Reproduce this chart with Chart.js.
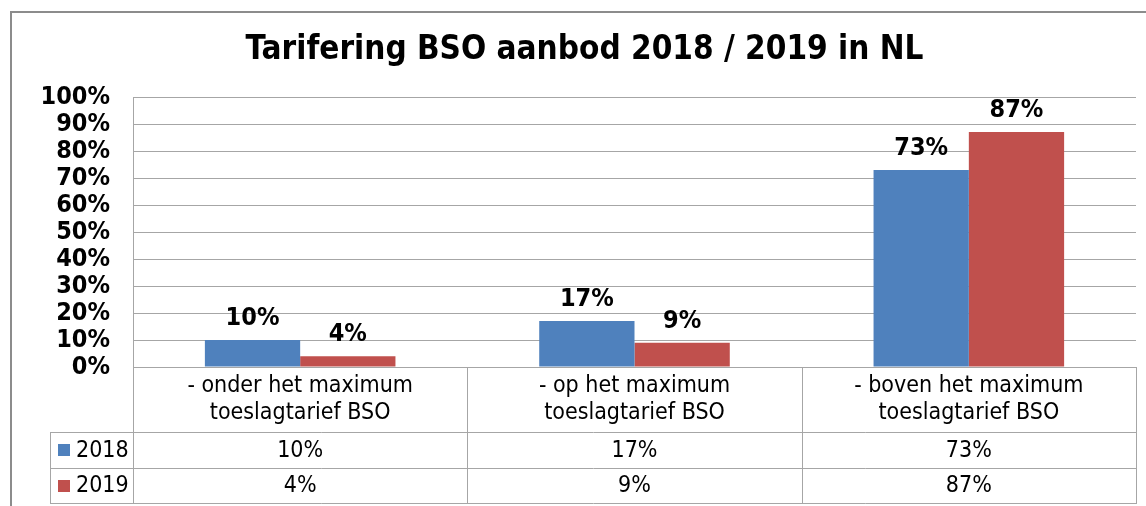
<!DOCTYPE html>
<html lang="nl">
<head>
    <meta charset="UTF-8">
    <title>Tarifering BSO aanbod 2018 / 2019 in NL</title>
    <script src="https://cdn.jsdelivr.net/npm/chart.js"></script>
    <style>
        html, body { margin: 0; padding: 0; background: #ffffff; }
        #chartContainer { position: relative; width: 1146px; height: 506px; }
    </style>
</head>
<body>
    <div id="chartContainer">
        <canvas id="chart1"></canvas>
    </div>

    <script>
        // data
        var categorieen = [
            ['- onder het maximum', 'toeslagtarief BSO'],
            ['- op het maximum', 'toeslagtarief BSO'],
            ['- boven het maximum', 'toeslagtarief BSO']
        ];
        var jaren = ['2018', '2019'];
        var waarden2018 = [10, 17, 73];
        var waarden2019 = [4, 9, 87];
        var kleuren = ['#4F81BD', '#C0504D'];

        var lettertype = '"DejaVu Sans Condensed", "DejaVu Sans", sans-serif';
        var lijnKleur = '#a6a6a6';

        // data table under the plot + outer frame
        var tabelPlugin = {
            id: 'tabel',
            afterDraw: function (chart) {
                var ctx = chart.ctx;
                var area = chart.chartArea;
                var x = chart.scales.x;
                var rijen = [area.bottom, 432, 468, 503];
                var legendaLinks = 50;
                var n = categorieen.length;
                var grenzen = [];
                for (var i = 0; i <= n; i++) {
                    grenzen.push(i === 0 ? area.left : (i === n ? area.right : (x.getPixelForValue(i - 1) + x.getPixelForValue(i)) / 2));
                }

                ctx.save();
                ctx.strokeStyle = lijnKleur;
                ctx.lineWidth = 1;
                ctx.beginPath();
                // verticale lijnen
                for (var i = 0; i < grenzen.length; i++) {
                    var gx = Math.round(grenzen[i]) + 0.5;
                    ctx.moveTo(gx, rijen[0]);
                    ctx.lineTo(gx, rijen[3]);
                }
                ctx.moveTo(legendaLinks + 0.5, rijen[1]);
                ctx.lineTo(legendaLinks + 0.5, rijen[3]);
                // horizontale lijnen
                for (var r = 1; r < rijen.length; r++) {
                    ctx.moveTo(legendaLinks, rijen[r] + 0.5);
                    ctx.lineTo(area.right + 1, rijen[r] + 0.5);
                }
                ctx.stroke();

                ctx.fillStyle = '#000000';
                ctx.textAlign = 'center';
                ctx.textBaseline = 'middle';
                ctx.font = '23px ' + lettertype;
                var midden = (rijen[0] + rijen[1]) / 2;
                for (var i = 0; i < n; i++) {
                    var cx = x.getPixelForValue(i);
                    ctx.fillText(categorieen[i][0], cx, midden - 13);
                    ctx.fillText(categorieen[i][1], cx, midden + 14);
                }

                var reeksen = [waarden2018, waarden2019];
                for (var s = 0; s < reeksen.length; s++) {
                    var cy = (rijen[s + 1] + rijen[s + 2]) / 2;
                    ctx.textAlign = 'center';
                    for (var i = 0; i < n; i++) {
                        ctx.fillText(reeksen[s][i] + '%', x.getPixelForValue(i), cy + 1);
                    }
                    ctx.fillStyle = kleuren[s];
                    ctx.fillRect(58, Math.round(cy) - 6, 12, 12);
                    ctx.fillStyle = '#000000';
                    ctx.textAlign = 'left';
                    ctx.fillText(jaren[s], 76, cy + 1);
                }

                // buitenrand
                ctx.strokeStyle = '#8c8c8c';
                ctx.lineWidth = 2;
                ctx.beginPath();
                ctx.moveTo(11, chart.height);
                ctx.lineTo(11, 12);
                ctx.lineTo(chart.width, 12);
                ctx.stroke();
                ctx.restore();
            }
        };

        // value labels above bars
        var labelPlugin = {
            id: 'labels',
            afterDatasetsDraw: function (chart) {
                var ctx = chart.ctx;
                ctx.save();
                ctx.font = 'bold 25px ' + lettertype;
                ctx.fillStyle = '#000000';
                ctx.textAlign = 'center';
                ctx.textBaseline = 'alphabetic';
                chart.data.datasets.forEach(function (ds, d) {
                    chart.getDatasetMeta(d).data.forEach(function (bar, i) {
                        ctx.fillText(ds.data[i] + '%', bar.x, bar.y - 15);
                    });
                });
                ctx.restore();
            }
        };

        var ctx = document.getElementById('chart1').getContext('2d');
        var chart = new Chart(ctx, {
            type: 'bar',
            data: {
                labels: categorieen,
                datasets: [{
                    label: jaren[0],
                    data: waarden2018,
                    backgroundColor: kleuren[0]
                }, {
                    label: jaren[1],
                    data: waarden2019,
                    backgroundColor: kleuren[1]
                }]
            },
            options: {
                responsive: true,
                maintainAspectRatio: false,
                animation: false,
                layout: {
                    padding: { left: 33, right: 10, top: 0, bottom: 139 }
                },
                datasets: {
                    bar: {
                        categoryPercentage: 0.57,
                        barPercentage: 1.0
                    }
                },
                plugins: {
                    legend: { display: false },
                    tooltip: { enabled: false },
                    title: {
                        display: true,
                        text: 'Tarifering BSO aanbod 2018 / 2019 in NL',
                        color: '#000000',
                        font: { family: lettertype, size: 33, weight: 'bold', lineHeight: 1.2 },
                        padding: { top: 31, bottom: 26.4 }
                    }
                },
                scales: {
                    x: {
                        display: false
                    },
                    y: {
                        min: 0,
                        max: 100,
                        afterFit: function (scale) { scale.width = 100; },
                        ticks: {
                            stepSize: 10,
                            autoSkip: false,
                            padding: 23,
                            color: '#000000',
                            font: { family: lettertype, size: 25, weight: 'bold' },
                            callback: function (v) { return v + '%'; }
                        },
                        grid: {
                            color: lijnKleur,
                            drawTicks: false
                        },
                        border: {
                            color: lijnKleur
                        }
                    }
                }
            },
            plugins: [tabelPlugin, labelPlugin]
        });
    </script>
</body>
</html>
